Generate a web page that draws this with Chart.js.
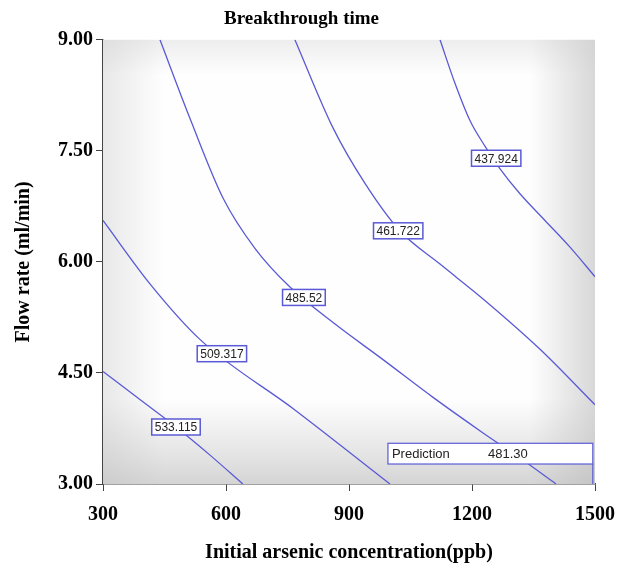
<!DOCTYPE html>
<html>
<head>
<meta charset="utf-8">
<script src="https://cdn.jsdelivr.net/npm/chart.js@4"></script>
<style>
  html, body { margin: 0; padding: 0; background: #fff; }
  #wrap { width: 619px; height: 569px; }
</style>
</head>
<body>
<div id="wrap"><canvas id="chart" width="619" height="569"></canvas></div>
<script>
// contour lines (x = ppb, y = ml/min)
const levels = ["533.115", "509.317", "485.52", "461.722", "437.924"];
const line533 = [{x:300,y:4.52},{x:390,y:4.14},{x:478,y:3.77},{x:561,y:3.39},{x:641,y:3.0}];
const line509 = [{x:300,y:6.56},{x:415,y:5.70},{x:537,y:4.95},{x:768,y:4.0},{x:1000,y:3.0}];
const line485 = [{x:439,y:9.0},{x:512,y:7.94},{x:593,y:6.86},{x:671,y:6.18},{x:756,y:5.66},{x:866,y:5.16},{x:983,y:4.68},{x:1105,y:4.17},{x:1227,y:3.69},{x:1317,y:3.35},{x:1405,y:3.0}];
const line461 = [{x:768,y:9.0},{x:861,y:7.81},{x:939,y:7.06},{x:1024,y:6.42},{x:1122,y:5.97},{x:1227,y:5.50},{x:1366,y:4.82},{x:1500,y:4.07}];
const line437 = [{x:1122,y:9.0},{x:1158,y:8.42},{x:1195,y:7.91},{x:1232,y:7.56},{x:1268,y:7.26},{x:1317,y:6.92},{x:1378,y:6.56},{x:1439,y:6.20},{x:1500,y:5.80}];
const labelPts = [{x:478,y:3.77},{x:590,y:4.76},{x:790,y:5.52},{x:1020,y:6.42},{x:1259,y:7.40}];
const xTicks = [300, 600, 900, 1200, 1500];
const yTicks = [3.0, 4.5, 6.0, 7.5, 9.0];
const prediction = { label: "Prediction", value: "481.30", x: 1480, y: 3.0, boxLeft: 995, boxTop: 3.55, boxBottom: 3.27 };

const blue = "#5a5ad6";
const serif = "'Liberation Serif', 'DejaVu Serif', serif";

const shading = {
  id: "shading",
  beforeDatasetsDraw(chart) {
    const { ctx, chartArea: a } = chart;
    ctx.save();
    ctx.fillStyle = "#fefefe";
    ctx.fillRect(a.left, a.top, a.width, a.height);
    let g = ctx.createLinearGradient(a.left, 0, a.left + 60, 0);
    g.addColorStop(0, "rgba(205,205,205,0.45)"); g.addColorStop(1, "rgba(205,205,205,0)");
    ctx.fillStyle = g; ctx.fillRect(a.left, a.top, 60, a.height);
    g = ctx.createLinearGradient(a.right - 65, 0, a.right, 0);
    g.addColorStop(0, "rgba(195,195,195,0)"); g.addColorStop(1, "rgba(195,195,195,0.65)");
    ctx.fillStyle = g; ctx.fillRect(a.right - 65, a.top, 65, a.height);
    g = ctx.createLinearGradient(0, a.bottom - 85, 0, a.bottom);
    g.addColorStop(0, "rgba(195,195,195,0)"); g.addColorStop(0.45, "rgba(195,195,195,0.3)"); g.addColorStop(1, "rgba(185,185,185,0.6)");
    ctx.fillStyle = g; ctx.fillRect(a.left, a.bottom - 85, a.width, 85);
    g = ctx.createLinearGradient(0, a.top, 0, a.top + 35);
    g.addColorStop(0, "rgba(205,205,205,0.35)"); g.addColorStop(1, "rgba(205,205,205,0)");
    ctx.fillStyle = g; ctx.fillRect(a.left, a.top, a.width, 35);
    ctx.restore();
  }
};

const contourLabels = {
  id: "contourLabels",
  afterDatasetsDraw(chart) {
    const { ctx, scales: { x, y } } = chart;
    ctx.save();
    ctx.font = "12px 'Liberation Sans', Arial, sans-serif";
    ctx.textAlign = "center"; ctx.textBaseline = "middle";
    labelPts.forEach((p, i) => {
      const px = x.getPixelForValue(p.x), py = y.getPixelForValue(p.y);
      const w = ctx.measureText(levels[i]).width + 6;
      ctx.fillStyle = "#fff"; ctx.fillRect(px - w / 2, py - 8, w, 16);
      ctx.strokeStyle = blue; ctx.lineWidth = 1.5; ctx.strokeRect(px - w / 2, py - 8, w, 16);
      ctx.fillStyle = "#222"; ctx.fillText(levels[i], px, py + 1);
    });
    const l = x.getPixelForValue(prediction.boxLeft), r = x.getPixelForValue(prediction.x) + 6;
    const t = y.getPixelForValue(prediction.boxTop), b = y.getPixelForValue(prediction.boxBottom);
    ctx.fillStyle = "#fff"; ctx.fillRect(l, t, r - l, b - t);
    ctx.strokeStyle = blue; ctx.lineWidth = 1.2; ctx.strokeRect(l, t, r - l, b - t);
    ctx.beginPath(); ctx.moveTo(r, b); ctx.lineTo(r, y.getPixelForValue(prediction.y)); ctx.stroke();
    ctx.fillStyle = "#222"; ctx.textAlign = "left"; ctx.font = "13px 'Liberation Sans', Arial, sans-serif";
    ctx.fillText(prediction.label, l + 4, (t + b) / 2 + 1);
    ctx.fillText(prediction.value, l + 100, (t + b) / 2 + 1);
    ctx.restore();
  }
};

const lines = [line533, line509, line485, line461, line437];
new Chart(document.getElementById("chart"), {
  type: "scatter",
  data: {
    datasets: lines.map((pts, i) => ({
      label: levels[i], data: pts, showLine: true, borderColor: blue, borderWidth: 1.3,
      pointRadius: 0, cubicInterpolationMode: "monotone"
    }))
  },
  options: {
    responsive: false, animation: false,
    layout: { padding: { left: 8, right: 24, top: 0, bottom: 0 } },
    plugins: {
      legend: { display: false }, tooltip: { enabled: false },
      title: { display: true, text: "Breakthrough time", color: "#000",
        font: { family: serif, size: 19, weight: "bold" }, padding: { top: 8, bottom: 9 } }
    },
    scales: {
      x: {
        type: "linear", min: 300, max: 1500,
        afterBuildTicks: s => { s.ticks = xTicks.map(v => ({ value: v })); },
        afterFit: s => { s.height = 85; s.paddingRight = 0; s.paddingLeft = 0; },
        grid: { drawOnChartArea: false, tickLength: 7, color: "#444" },
        border: { color: "#444", width: 1.5 },
        ticks: { color: "#000", font: { family: serif, size: 20, weight: "bold" }, padding: 12,
          callback: v => String(v) },
        title: { display: true, text: "Initial arsenic concentration(ppb)", color: "#000",
          font: { family: serif, size: 20, weight: "bold" }, padding: { top: 0 } }
      },
      y: {
        type: "linear", min: 3, max: 9,
        afterBuildTicks: s => { s.ticks = yTicks.map(v => ({ value: v })); },
        afterFit: s => { s.width = 95; },
        grid: { drawOnChartArea: false, tickLength: 7, color: "#444" },
        border: { color: "#444", width: 1.5 },
        ticks: { color: "#000", font: { family: serif, size: 20, weight: "bold" }, padding: 3,
          callback: v => v.toFixed(2) },
        title: { display: true, text: "Flow rate (ml/min)", color: "#000",
          font: { family: serif, size: 20, weight: "bold" }, padding: { bottom: 2 } }
      }
    }
  },
  plugins: [shading, contourLabels]
});
</script>
</body>
</html>
